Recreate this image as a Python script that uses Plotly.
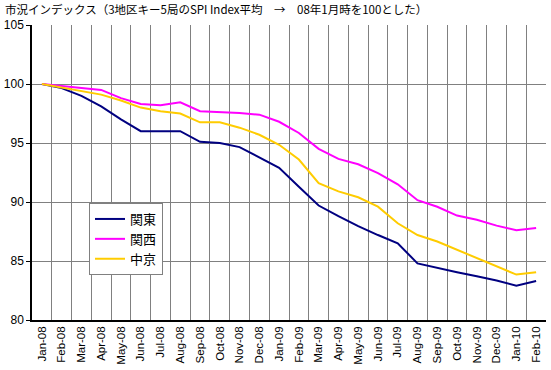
import plotly.graph_objects as go

months = ["Jan-08", "Feb-08", "Mar-08", "Apr-08", "May-08", "Jun-08", "Jul-08", "Aug-08",
          "Sep-08", "Oct-08", "Nov-08", "Dec-08", "Jan-09", "Feb-09", "Mar-09", "Apr-09",
          "May-09", "Jun-09", "Jul-09", "Aug-09", "Sep-09", "Oct-09", "Nov-09", "Dec-09",
          "Jan-10", "Feb-10"]

kanto = [100.0, 99.65, 99.0, 98.1, 97.0, 96.0, 96.0, 96.0, 95.1, 95.0, 94.65, 93.8, 92.9,
         91.3, 89.7, 88.8, 87.95, 87.2, 86.5, 84.8, 84.4, 84.05, 83.7, 83.35, 82.9, 83.3]
kansai = [100.0, 99.85, 99.65, 99.5, 98.8, 98.3, 98.2, 98.45, 97.7, 97.65, 97.55, 97.4, 96.8,
          95.85, 94.5, 93.65, 93.2, 92.45, 91.5, 90.15, 89.6, 88.85, 88.5, 88.0, 87.6, 87.8]
chukyo = [100.0, 99.7, 99.45, 99.1, 98.6, 98.0, 97.7, 97.5, 96.75, 96.75, 96.3, 95.7, 94.85,
          93.6, 91.6, 90.9, 90.4, 89.6, 88.2, 87.2, 86.65, 85.95, 85.25, 84.55, 83.85, 84.05]

series_names = ["関東", "関西", "中京"]
series_colors = ["#000080", "#FF00FF", "#FFCC00"]
title_text = "市況インデックス（3地区キー5局のSPI Index平均　→　08年1月時を100とした）"

fig = go.Figure()
for name, vals, col in zip(series_names, [kanto, kansai, chukyo], series_colors):
    fig.add_trace(go.Scatter(x=months, y=vals, name=name, mode="lines", legendgroup=name,
                             line=dict(color=col, width=2)))

fig.update_layout(
    width=551, height=370,
    margin=dict(l=32, r=5, t=25, b=50),
    paper_bgcolor="white", plot_bgcolor="white",
    font=dict(family="Liberation Sans, Arial, sans-serif", size=11, color="black"),
    showlegend=True,
    legend=dict(x=(89-32)/514, y=(320-203)/295, xanchor="left", yanchor="top",
                bgcolor="white", bordercolor="#808080", borderwidth=1,
                tracegroupgap=0, itemwidth=30,
                font=dict(family="Noto Sans CJK JP", size=13, color="black")),
    annotations=[dict(text=title_text, xref="paper", yref="paper",
                      x=-29/514, y=(320-9)/295, xanchor="left", yanchor="middle",
                      showarrow=False,
                      font=dict(family="Noto Sans CJK JP", size=11.5, color="black"))],
)
fig.update_xaxes(type="category", range=[-0.5, 25.5], tickson="boundaries", automargin=False,
                 showgrid=True, gridcolor="#808080", gridwidth=1,
                 showline=True, linecolor="black", linewidth=1.5, mirror=False,
                 ticks="", tickangle=-90, tickfont=dict(size=11.5))
fig.update_yaxes(range=[80, 105], dtick=5, showgrid=True, gridcolor="#808080", gridwidth=1,
                 automargin=False,
                 showline=True, linecolor="black", linewidth=1.5, zeroline=False,
                 ticks="outside", ticklen=4, tickcolor="black", tickfont=dict(size=12))

fig.write_html("out.html", config={"displayModeBar": False},
               post_script="document.body.style.margin='0';")
